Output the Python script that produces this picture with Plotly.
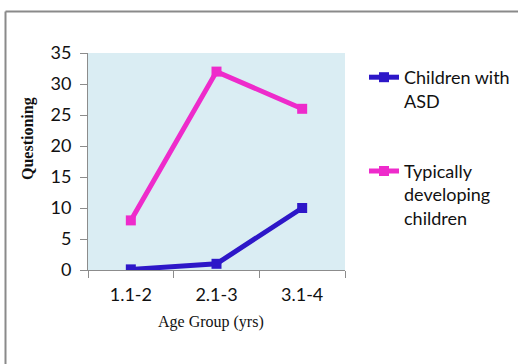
import plotly.graph_objects as go

categories = ["1.1-2", "2.1-3", "3.1-4"]
asd_values = [0.1, 1, 10]
td_values = [8, 32, 26]
y_ticks = [0, 5, 10, 15, 20, 25, 30, 35]

W, H = 518, 364
L, R, T, B = 88, 345, 53, 270

def px_x(p):
    return (p - L) / (R - L)

def px_y(p):
    return (B - p) / (B - T)

font_sans = "Lato, Liberation Sans, sans-serif"
font_serif = "Liberation Serif, Times New Roman, serif"

fig = go.Figure()
fig.add_trace(go.Scatter(
    x=categories, y=asd_values, mode="lines+markers",
    name="Children with<br>ASD", legendgroup="a",
    line=dict(color="#2D17C8", width=5),
    marker=dict(symbol="square", size=10, color="#2D17C8"),
))
fig.add_trace(go.Scatter(
    x=categories, y=td_values, mode="lines+markers",
    name="Typically<br>developing<br>children", legendgroup="b",
    line=dict(color="#EE2BCB", width=5),
    marker=dict(symbol="square", size=10, color="#EE2BCB"),
))

fig.update_layout(
    width=W, height=H,
    margin=dict(l=L, r=W - R, t=T, b=H - B, autoexpand=False),
    paper_bgcolor="white",
    plot_bgcolor="#DAEDF3",
    showlegend=True,
    legend=dict(
        x=px_x(364), y=px_y(59), xanchor="left", yanchor="top",
        font=dict(family=font_sans, size=18, color="#111"),
        valign="top", tracegroupgap=44, itemwidth=30,
        bgcolor="rgba(0,0,0,0)",
    ),
    xaxis=dict(
        type="category", showgrid=False, showline=True, linecolor="#8c8c8c", linewidth=1,
        ticks="outside", tickson="boundaries", ticklen=7, tickcolor="#8c8c8c",
        tickfont=dict(family=font_sans, size=18, color="#111"),
        ticklabelstandoff=8,
        range=[-0.5, 2.5], fixedrange=True,
    ),
    yaxis=dict(
        range=[0, 35], tickvals=y_ticks, showgrid=False, zeroline=False,
        showline=True, linecolor="#8c8c8c", linewidth=1,
        ticks="outside", ticklen=7, tickcolor="#8c8c8c",
        tickfont=dict(family=font_sans, size=18, color="#111"),
        ticklabelstandoff=5,
    ),
    annotations=[
        dict(text="<b>Questioning</b>", xref="paper", yref="paper",
             x=px_x(28), y=px_y(139), xanchor="center", yanchor="middle",
             textangle=-90, showarrow=False,
             font=dict(family=font_serif, size=16, color="#111")),
        dict(text="Age Group (yrs)", xref="paper", yref="paper",
             x=px_x(211), y=px_y(322), xanchor="center", yanchor="middle",
             showarrow=False,
             font=dict(family=font_serif, size=16, color="#111")),
    ],
    shapes=[
        dict(type="line", xref="paper", yref="paper",
             x0=px_x(5.5), x1=px_x(530), y0=px_y(11.5), y1=px_y(11.5),
             line=dict(color="#8a8a8a", width=2)),
        dict(type="line", xref="paper", yref="paper",
             x0=px_x(5.5), x1=px_x(5.5), y0=px_y(11.5), y1=px_y(380),
             line=dict(color="#8a8a8a", width=2)),
    ],
)

fig.write_html("out.html")
